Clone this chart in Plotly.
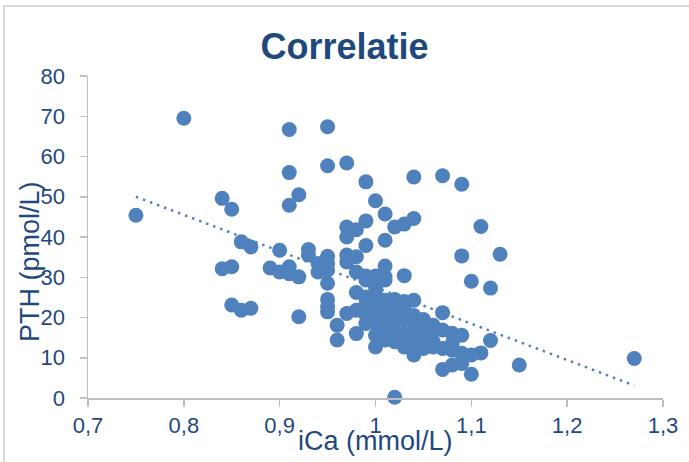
import numpy as np
import plotly.graph_objects as go

# iCa (mmol/L) values
ica = [
    0.75, 0.80, 0.84, 0.85, 0.84, 0.85, 0.85, 0.86, 0.87, 0.86, 0.87,
    0.91, 0.95, 0.91, 0.95, 0.92, 0.91, 0.90, 0.93, 0.93, 0.89, 0.90,
    0.91, 0.92, 0.91, 0.94, 0.94, 0.95, 0.95, 0.95, 0.95, 0.95, 0.95,
    0.95, 0.92, 0.96, 0.96,
    0.97, 0.99, 1.04, 1.07, 1.09, 1.00, 1.01, 0.99, 0.97, 0.97, 0.98,
    1.02, 1.03, 1.04, 1.11, 0.99, 1.01, 1.09, 1.13, 0.97, 0.98, 0.97,
    1.01, 1.03, 1.10, 1.12, 0.98, 0.99, 1.00, 1.01, 0.99, 1.00, 1.01,
    0.98, 0.99, 1.00, 0.97, 0.98, 0.99, 1.00, 1.01, 1.02, 1.04, 0.99,
    1.00, 1.01, 1.02, 1.03, 1.07, 0.99, 1.00, 1.02, 1.04, 1.00, 1.01,
    1.00, 1.02, 1.03, 1.04, 1.06, 1.06, 1.07, 1.08, 1.09, 1.12, 1.03,
    1.04, 1.05, 1.06, 1.07, 1.08, 1.09, 1.11, 1.07, 1.09, 1.10, 1.15,
    1.02, 1.27, 1.08, 1.10, 1.02, 1.03, 1.01, 1.02, 1.03, 1.04, 1.05,
    1.05, 1.01, 1.02, 1.00, 0.98, 1.03, 1.04, 1.05, 1.06, 1.08, 1.09,
]

# PTH (pmol/L) values
pth = [
    45.4, 69.5, 49.6, 46.9, 32.1, 32.6, 23.1, 21.8, 22.3, 38.8, 37.5,
    66.7, 67.4, 56.0, 57.7, 50.5, 47.9, 36.7, 36.9, 35.5, 32.3, 31.3,
    32.6, 30.1, 30.9, 33.4, 31.3, 35.2, 33.4, 31.8, 28.5, 24.5, 22.8,
    21.4, 20.2, 18.1, 14.4,
    58.4, 53.7, 54.9, 55.2, 53.1, 49.0, 45.7, 44.0, 42.5, 40.0, 41.8,
    42.5, 43.2, 44.6, 42.6, 37.9, 39.2, 35.3, 35.7, 35.5, 35.1, 33.8,
    32.8, 30.4, 29.0, 27.3, 31.3, 30.3, 30.3, 30.1, 29.3, 29.3, 29.3,
    26.2, 25.1, 26.0, 21.0, 21.8, 23.5, 23.5, 24.3, 24.5, 24.3, 20.6,
    21.0, 20.6, 21.8, 22.7, 21.2, 18.5, 18.5, 18.9, 18.9, 15.6, 14.4,
    12.7, 16.5, 16.1, 16.5, 18.1, 16.5, 16.9, 16.1, 15.6, 14.3, 12.7,
    10.7, 12.3, 12.7, 12.3, 11.9, 11.1, 11.2, 7.1, 8.6, 5.9, 8.2,
    0.2, 9.8, 8.2, 10.7, 20.0, 19.5, 17.5, 14.0, 14.5, 13.5, 14.5,
    17.0, 22.5, 23.0, 27.5, 16.0, 24.0, 20.5, 19.5, 14.0, 13.5, 11.0,
]

title_text = "Correlatie"
x_title = "iCa (mmol/L)"
y_title = "PTH (pmol/L)"

blue = "#4F81BD"
dark = "#1F497D"
grey = "#BFBFBF"
font = "Liberation Sans, Arial, sans-serif"

x = np.array(ica)
y = np.array(pth)
slope, intercept = np.polyfit(x, y, 1)
tx = np.array([x.min(), x.max()])
ty = slope * tx + intercept

fig = go.Figure()
fig.add_trace(go.Scatter(
    x=ica, y=pth, mode="markers",
    marker=dict(size=15, color=blue, line=dict(width=0)),
    cliponaxis=False, showlegend=False, hoverinfo="skip",
))
fig.add_trace(go.Scatter(
    x=tx, y=ty, mode="lines",
    line=dict(color=blue, width=2.5, dash="2.5px,5px"),
    showlegend=False, hoverinfo="skip",
))

fig.update_layout(
    width=689, height=462,
    margin=dict(l=88, r=26, t=76, b=64),
    paper_bgcolor="white", plot_bgcolor="white",
    separators=", ",
    hovermode=False,
    font=dict(family=font, color=dark),
    title=dict(text="<b>" + title_text + "</b>", x=0.5, xref="container",
               y=1 - 46 / 462, yref="container", yanchor="middle", xanchor="center",
               font=dict(size=36, color=dark, family=font)),
    xaxis=dict(range=[0.7, 1.3], dtick=0.1, tick0=0.7, showgrid=False, zeroline=False,
               showline=True, linecolor=grey, linewidth=1.5,
               ticks="outside", ticklen=7, tickcolor=grey, tickwidth=1.5,
               ticklabelstandoff=0,
               tickfont=dict(size=22, color=dark, family=font)),
    yaxis=dict(range=[0, 80], dtick=10, showgrid=False, zeroline=False,
               showline=True, linecolor=grey, linewidth=1.5,
               ticks="outside", ticklen=7, tickcolor=grey, tickwidth=1.5,
               ticklabelstandoff=10,
               tickfont=dict(size=22, color=dark, family=font)),
    annotations=[
        dict(text=x_title, xref="paper", yref="paper", x=(375 - 88) / 575, y=(398 - 441) / 322,
             showarrow=False, xanchor="center", yanchor="middle",
             font=dict(size=27, color=dark, family=font)),
        dict(text=y_title, xref="paper", yref="paper", x=(30 - 88) / 575, y=(398 - 262) / 322,
             showarrow=False, xanchor="center", yanchor="middle", textangle=-90,
             font=dict(size=27, color=dark, family=font)),
    ],
    shapes=[
        dict(type="rect", xref="paper", yref="paper",
             x0=(4 - 88) / 575, x1=(720 - 88) / 575,
             y0=(398 - 480) / 322, y1=(398 - 6) / 322,
             line=dict(color="#D9D9D9", width=2), layer="below"),
    ],
)

fig.write_html("out.html",
               config={"displayModeBar": False, "staticPlot": True},
               post_script="document.body.style.margin='0';document.body.style.overflow='hidden';")
